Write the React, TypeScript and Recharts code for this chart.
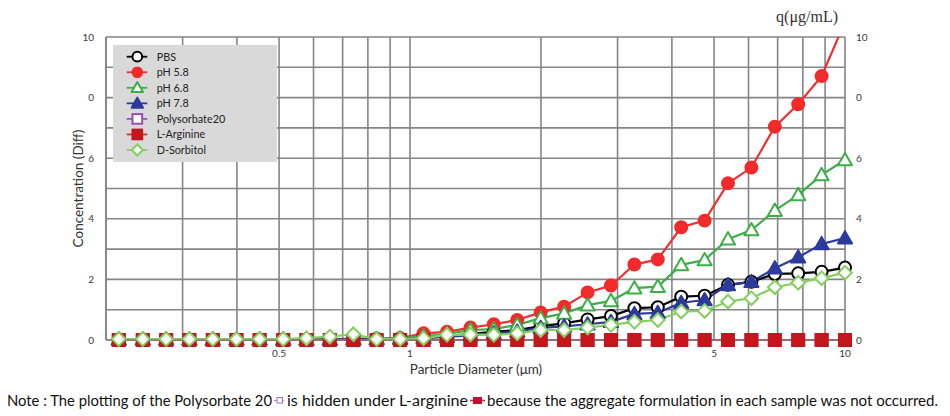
import React from 'react';
import { LineChart, Line, XAxis, YAxis, CartesianGrid, Legend } from 'recharts';

// ---- data ----
const diameters = [0.214, 0.243, 0.275, 0.311, 0.352, 0.399, 0.451, 0.511, 0.578, 0.654, 0.741, 0.838, 0.949, 1.074, 1.216, 1.377, 1.558, 1.764, 1.997, 2.261, 2.56, 2.897, 3.28, 3.712, 4.202, 4.756, 5.383, 6.093, 6.897, 7.806, 8.836, 10];

const pbs = [0.02, 0.02, 0.02, 0.02, 0.02, 0.02, 0.02, 0.02, 0.02, 0.02, 0.04, 0.04, 0.05, 0.08, 0.13, 0.2, 0.27, 0.33, 0.46, 0.55, 0.68, 0.79, 1.05, 1.08, 1.43, 1.46, 1.82, 1.92, 2.18, 2.2, 2.25, 2.39];
const ph58 = [0.02, 0.02, 0.02, 0.02, 0.02, 0.02, 0.02, 0.02, 0.02, 0.02, 0.03, 0.03, 0.06, 0.22, 0.27, 0.41, 0.52, 0.66, 0.91, 1.1, 1.57, 1.8, 2.49, 2.66, 3.72, 3.94, 5.17, 5.69, 7.04, 7.78, 8.71, 10.5];
const ph68 = [0.02, 0.02, 0.02, 0.02, 0.02, 0.02, 0.02, 0.02, 0.02, 0.02, 0.04, 0.04, 0.06, 0.12, 0.2, 0.33, 0.36, 0.5, 0.72, 0.88, 1.15, 1.29, 1.71, 1.76, 2.48, 2.64, 3.33, 3.63, 4.27, 4.79, 5.45, 5.94];
const ph78 = [0.02, 0.02, 0.02, 0.02, 0.02, 0.02, 0.02, 0.02, 0.02, 0.02, 0.03, 0.03, 0.04, 0.06, 0.1, 0.16, 0.22, 0.28, 0.4, 0.45, 0.52, 0.6, 0.86, 0.9, 1.23, 1.32, 1.82, 1.92, 2.37, 2.73, 3.17, 3.36];
const polysorbate20 = [0, 0, 0, 0, 0, 0, 0, 0, 0, 0, 0, 0, 0, 0, 0, 0, 0, 0, 0, 0, 0, 0, 0, 0, 0, 0, 0, 0, 0, 0, 0, 0];
const lArginine = [0, 0, 0, 0, 0, 0, 0, 0, 0, 0, 0, 0, 0, 0, 0, 0, 0, 0, 0, 0, 0, 0, 0, 0, 0, 0, 0, 0, 0, 0, 0, 0];
const dSorbitol = [0.03, 0.03, 0.03, 0.03, 0.03, 0.03, 0.03, 0.03, 0.06, 0.11, 0.19, 0.03, 0.03, 0.06, 0.17, 0.18, 0.17, 0.22, 0.33, 0.33, 0.41, 0.5, 0.6, 0.66, 0.94, 0.96, 1.27, 1.38, 1.74, 1.89, 2.04, 2.22];

const seriesNames = ['PBS', 'pH 5.8', 'pH 6.8', 'pH 7.8', 'Polysorbate20', 'L-Arginine', 'D-Sorbitol'];
const seriesKeys = ['pbs', 'ph58', 'ph68', 'ph78', 'poly', 'arg', 'sorb'];
const seriesValues = [pbs, ph58, ph68, ph78, polysorbate20, lArginine, dSorbitol];

const xGridTicks = [0.2, 0.3, 0.4, 0.5, 0.6, 0.7, 0.8, 0.9, 1, 2, 3, 4, 5, 6, 7, 8, 9, 10];
const xTickLabelValues = [0.5, 1, 5, 10];
const xTickLabelTexts = ['0.5', '1', '5', '10'];
const yGridTicks = [0, 1, 2, 3, 4, 5, 6, 7, 8, 9, 10];
const yTickLabelTexts = ['0', '', '2', '', '4', '', '6', '', '0', '', '10'];

// ---- styles ----
type Style = { shape: string; stroke: string; fill: string; line: string };
const styles: Style[] = [
  { shape: 'circle', stroke: '#000000', fill: '#ffffff', line: '#000000' },
  { shape: 'circle', stroke: '#f22a2a', fill: '#f22a2a', line: '#f03030' },
  { shape: 'triangle', stroke: '#3cae48', fill: '#ffffff', line: '#3cae48' },
  { shape: 'triangle', stroke: '#2b3a9c', fill: '#2b3a9c', line: '#2b3a9c' },
  { shape: 'square', stroke: '#9b4fb2', fill: '#ffffff', line: '#9b4fb2' },
  { shape: 'square', stroke: '#c4161c', fill: '#c4161c', line: '#e2262a' },
  { shape: 'diamond', stroke: '#84cf60', fill: '#ffffff', line: '#84cf60' },
];

const FONT = 'Lato, "Open Sans", sans-serif';

const data = diameters.map((d, i) => {
  const row: Record<string, number> = { d };
  seriesKeys.forEach((k, s) => {
    row[k] = seriesValues[s][i];
  });
  return row;
});

function marker(st: Style, cx: number, cy: number, scale: number, key?: string) {
  const r = 6 * scale;
  const sw = 2;
  if (st.shape === 'circle') {
    return <circle key={key} cx={cx} cy={cy} r={r * 0.95} fill={st.fill} stroke={st.stroke} strokeWidth={sw} />;
  }
  if (st.shape === 'triangle') {
    const h = r * 1.12;
    return (
      <polygon
        key={key}
        points={`${cx},${cy - h} ${cx - h},${cy + h * 0.75} ${cx + h},${cy + h * 0.75}`}
        fill={st.fill}
        stroke={st.stroke}
        strokeWidth={sw}
        strokeLinejoin="round"
      />
    );
  }
  if (st.shape === 'square') {
    const s = r * 0.95;
    return <rect key={key} x={cx - s} y={cy - s} width={2 * s} height={2 * s} fill={st.fill} stroke={st.stroke} strokeWidth={sw} />;
  }
  const h = r * 1.08;
  return (
    <polygon
      key={key}
      points={`${cx},${cy - h} ${cx + h},${cy} ${cx},${cy + h} ${cx - h},${cy}`}
      fill={st.fill}
      stroke={st.stroke}
      strokeWidth={sw}
    />
  );
}

const makeDot = (st: Style) => (props: any) => {
  const { cx, cy, index } = props;
  if (cx == null || cy == null) return <g key={`e-${index}`} />;
  return marker(st, cx, cy, 1.05, `dot-${index}`);
};

const fmtX = (v: number) => {
  const i = xTickLabelValues.findIndex((t) => Math.abs(t - v) < 1e-9);
  return i >= 0 ? xTickLabelTexts[i] : '';
};
const fmtY = (v: number) => {
  const i = yGridTicks.indexOf(v);
  return i >= 0 ? yTickLabelTexts[i] : '';
};

const LegendBox = () => (
  <svg width={164} height={117} style={{ display: 'block' }}>
    <rect x={0} y={0} width={164} height={117} fill="#d9d9d9" />
    {seriesNames.map((name, i) => {
      const y = 11.7 + i * 15.55;
      const st = styles[i];
      return (
        <g key={name}>
          <line x1={13.7} x2={34.3} y1={y} y2={y} stroke={st.line} strokeWidth={1.8} />
          {marker(st, 24.3, y, 0.85)}
          <text x={43.7} y={y} dy="0.36em" fontSize={10.8} fontFamily={FONT} fill="#222">
            {name}
          </text>
        </g>
      );
    })}
  </svg>
);

const tickStyle = { fontSize: 10, fill: '#3a3a3a', fontFamily: FONT };

export default function App() {
  return (
    <div style={{ position: 'absolute', left: 0, top: 0, width: 950, height: 416, background: '#ffffff' }}>
      <LineChart width={950} height={416} data={data} margin={{ top: 37, right: 75, bottom: 56, left: 76 }}>
        <CartesianGrid stroke="#858585" strokeWidth={1.6} />
        <XAxis
          dataKey="d"
          type="number"
          scale="log"
          domain={[0.2, 10]}
          ticks={xGridTicks}
          interval={0}
          tickFormatter={fmtX}
          tickLine={false}
          axisLine={{ stroke: '#858585', strokeWidth: 1.6 }}
          tick={tickStyle}
          tickMargin={4}
          height={20}
          label={() => (
            <text x={476} y={374} textAnchor="middle" fontSize={13.5} fontFamily={FONT} fill="#333">
              Particle Diameter (μm)
            </text>
          )}
        />
        <YAxis
          type="number"
          domain={[0, 10]}
          ticks={yGridTicks}
          interval={0}
          allowDataOverflow
          tickFormatter={fmtY}
          tickLine={false}
          axisLine={{ stroke: '#858585', strokeWidth: 1.6 }}
          tick={tickStyle}
          tickMargin={6}
          width={30}
          label={() => (
            <text
              x={83}
              y={188.5}
              transform="rotate(-90 83 188.5)"
              textAnchor="middle"
              fontSize={13.5}
              fontFamily={FONT}
              fill="#333"
            >
              Concentration (Diff)
            </text>
          )}
        />
        <YAxis
          yAxisId="right"
          orientation="right"
          type="number"
          domain={[0, 10]}
          ticks={yGridTicks}
          interval={0}
          tickFormatter={fmtY}
          tickLine={false}
          axisLine={false}
          tick={tickStyle}
          tickMargin={5}
          width={30}
        />
        <Legend
          layout="vertical"
          align="center"
          verticalAlign="middle"
          content={() => <LegendBox />}
          wrapperStyle={{ left: 113, top: 45, width: 164, height: 117 }}
        />
        {seriesKeys.map((k, i) => (
          <Line
            key={k}
            yAxisId={k === 'ph58' ? 0 : 'right'}
            dataKey={k}
            name={seriesNames[i]}
            type="linear"
            stroke={styles[i].line}
            strokeWidth={2.2}
            dot={makeDot(styles[i])}
            activeDot={false}
            isAnimationActive={false}
          />
        ))}
      </LineChart>
      <svg width={950} height={416} style={{ position: 'absolute', left: 0, top: 0, pointerEvents: 'none' }}>
        <text x={838} y={22} textAnchor="end" fontSize={16} fontFamily='"Liberation Serif", serif' fill="#333">
          q(μg/mL)
        </text>
        <text x={7} y={406} fontSize={15.5} fontFamily={FONT} fill="#111" textLength={265} lengthAdjust="spacingAndGlyphs">
          Note : The plotting of the Polysorbate 20
        </text>
        <line x1={274} x2={284} y1={400.5} y2={400.5} stroke="#b88ac8" strokeWidth={1} />
        <rect x={277} y={397.5} width={5.5} height={5.5} fill="#ffffff" stroke="#a070b5" strokeWidth={1} />
        <text x={287} y={406} fontSize={15.5} fontFamily={FONT} fill="#111" textLength={181} lengthAdjust="spacingAndGlyphs">
          is hidden under L-arginine
        </text>
        <line x1={470} x2={485} y1={400.5} y2={400.5} stroke="#d8303a" strokeWidth={1.5} />
        <rect x={473} y={397} width={9} height={7} fill="#c8102e" />
        <text x={487} y={406} fontSize={15.5} fontFamily={FONT} fill="#111" textLength={451} lengthAdjust="spacingAndGlyphs">
          because the aggregate formulation in each sample was not occurred.
        </text>
      </svg>
    </div>
  );
}
